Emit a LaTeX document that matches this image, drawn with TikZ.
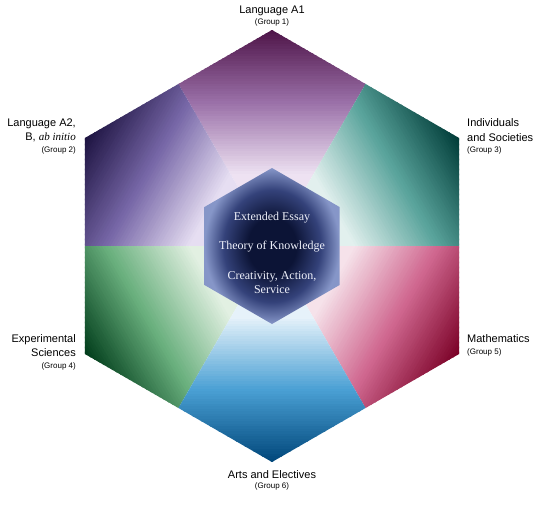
\documentclass[tikz,border=0pt]{standalone}
\usepackage{fontspec}
\newfontfamily\labelfont{Liberation Sans}
\newfontfamily\initiofont{Liberation Serif}

% sector colours: vertex / middle / near the centre
\definecolor{langAdark}{HTML}{4E1448}
\definecolor{langAmid}{HTML}{9A70A8}
\definecolor{langApale}{HTML}{EEE2F2}
\definecolor{langBdark}{HTML}{1C1240}
\definecolor{langBmid}{HTML}{7868A8}
\definecolor{langBpale}{HTML}{E6DEF2}
\definecolor{socdark}{HTML}{003C38}
\definecolor{socmid}{HTML}{5AA49C}
\definecolor{socpale}{HTML}{E2F0EE}
\definecolor{scidark}{HTML}{003C1A}
\definecolor{scimid}{HTML}{6AB07E}
\definecolor{scipale}{HTML}{E2F0E2}
\definecolor{mathdark}{HTML}{7A0026}
\definecolor{mathmid}{HTML}{D06890}
\definecolor{mathpale}{HTML}{F6E2EA}
\definecolor{artsdark}{HTML}{00467A}
\definecolor{artsmid}{HTML}{4AA0D4}
\definecolor{artspale}{HTML}{E6F2FA}
% core hexagon
\definecolor{coredark}{HTML}{0C1436}
\definecolor{coremid}{HTML}{34427A}
\definecolor{coreedge}{HTML}{8696C8}
\definecolor{coretext}{HTML}{EEF0FA}

\pgfdeclareradialshading{corefade}{\pgfpoint{0bp}{0bp}}{%
  color(0bp)=(coredark); color(9bp)=(coredark); color(18bp)=(coremid);
  color(25bp)=(coreedge); color(50bp)=(coreedge)}

\tikzset{
  grp/.style={font=\labelfont\fontsize{11}{13}\selectfont, inner sep=0pt},
  grpnum/.style={font=\labelfont\fontsize{8}{10}\selectfont, inner sep=0pt},
  core/.style={font=\initiofont\fontsize{12}{14}\selectfont, text=coretext, inner sep=0pt}
}

\begin{document}
\begin{tikzpicture}[x=1pt, y=1pt]
  \useasboundingbox (-272,-261) rectangle (274,246);

  % Seis grupos (faixas de cor do vertice ate o centro)
  \foreach \ang/\dk/\md/\pl in {90/langAdark/langAmid/langApale,
      150/langBdark/langBmid/langBpale, 30/socdark/socmid/socpale,
      210/scidark/scimid/scipale, 330/mathdark/mathmid/mathpale,
      270/artsdark/artsmid/artspale}{
    \begin{scope}[rotate=\ang-90]
      \clip (0,0) -- (60:187.06) -- (90:216) -- (120:187.06) -- cycle;
      \fill[\pl] (-120,-5) rectangle (120,71);
      \foreach \k in {0,...,58}{
        \pgfmathsetmacro\rlo{70+2.5*\k}
        \pgfmathsetmacro\rhi{\rlo+3.1}
        \pgfmathtruncatemacro\pa{round(\k*200/58)}
        \ifnum\pa>100
          \pgfmathtruncatemacro\pb{\pa-100}
          \fill[\dk!\pb!\md] (-120,\rlo) rectangle (120,\rhi);
        \else
          \fill[\md!\pa!\pl] (-120,\rlo) rectangle (120,\rhi);
        \fi
      }
    \end{scope}
  }

  % Nucleo
  \shade[shading=corefade] (90:78) -- (150:78) -- (210:78) -- (270:78)
    -- (330:78) -- (30:78) -- cycle;
  \node[core, anchor=base] (ee) at (0,26) {Extended Essay};
  \node[core, anchor=base] (tok) at (0,-3) {Theory of Knowledge};
  \node[core, anchor=base] (cas) at (0,-33) {Creativity, Action,};
  \node[core, anchor=base] (cas2) at (0,-47) {Service};

  % Grupos
  \node[grp, anchor=base] (g1) at (0,233) {Language A1};
  \node[grpnum, anchor=base] (g1n) at (0,222) {(Group 1)};

  \node[grp, anchor=base east] (g2) at (-196,120) {Language A2,};
  \node[grp, anchor=base east] (g2b) at (-196,106) {B, {\initiofont\itshape ab initio}};
  \node[grpnum, anchor=base east] (g2n) at (-196,94) {(Group 2)};

  \node[grp, anchor=base west] (g3) at (195,120) {Individuals};
  \node[grp, anchor=base west] (g3b) at (195,105) {and Societies};
  \node[grpnum, anchor=base west] (g3n) at (195,94) {(Group 3)};

  \node[grp, anchor=base east] (g4) at (-196,-96) {Experimental};
  \node[grp, anchor=base east] (g4b) at (-196,-110) {Sciences};
  \node[grpnum, anchor=base east] (g4n) at (-196,-122) {(Group 4)};

  \node[grp, anchor=base west] (g5) at (195,-96) {Mathematics};
  \node[grpnum, anchor=base west] (g5n) at (195,-108) {(Group 5)};

  \node[grp, anchor=base] (g6) at (0,-232) {Arts and Electives};
  \node[grpnum, anchor=base] (g6n) at (0,-242) {(Group 6)};
\end{tikzpicture}
\end{document}
